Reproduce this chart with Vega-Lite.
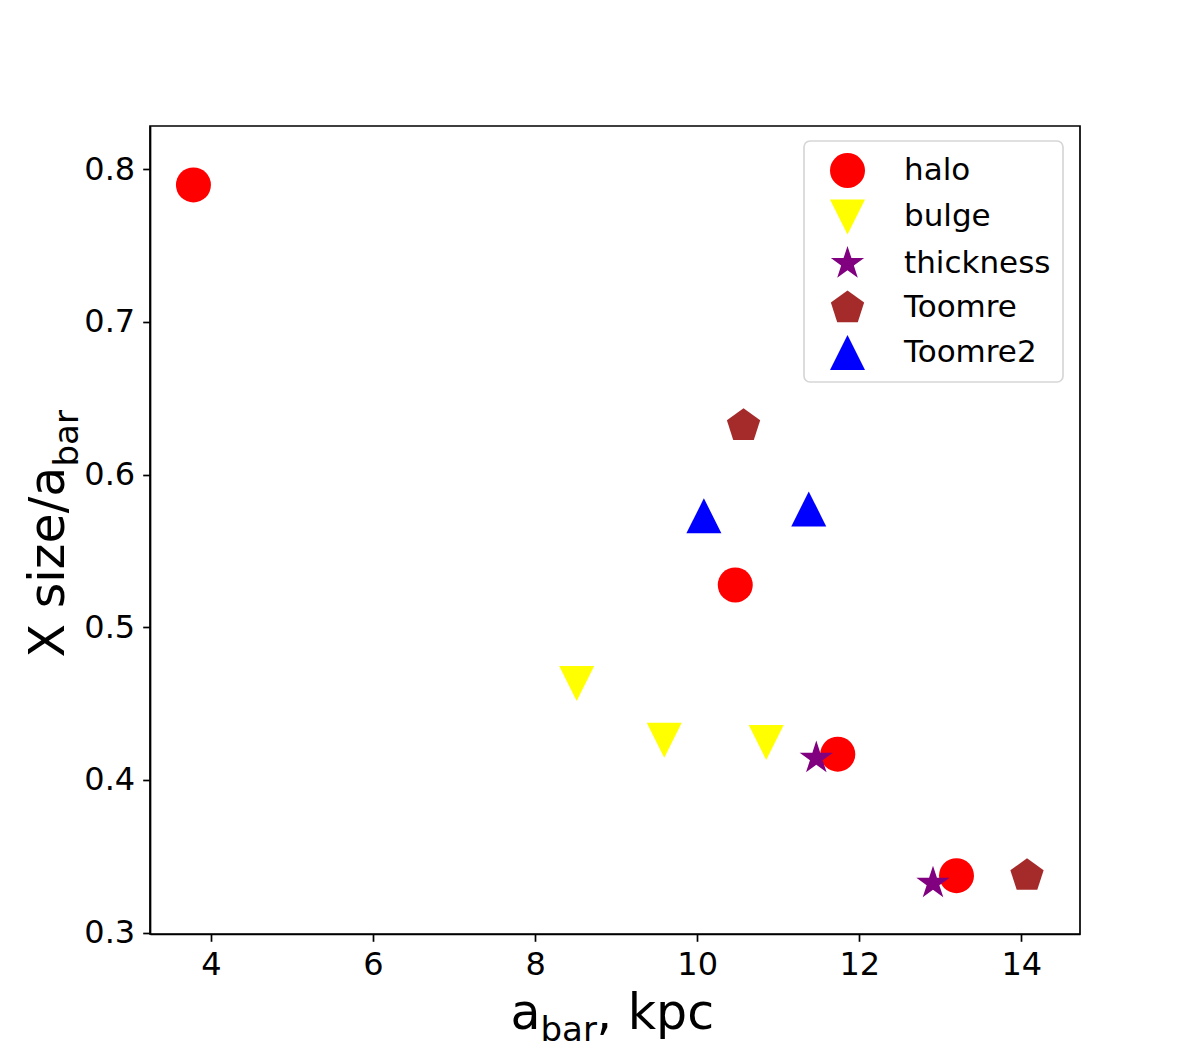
{
  "$schema": "https://vega.github.io/schema/vega-lite/v6.json",
  "width": 930,
  "height": 808,
  "autosize": {"type": "none"},
  "padding": {"left": 150, "top": 126, "right": 120, "bottom": 116},
  "background": "white",
  "data": {
    "values": [
      {"series": "halo", "abar": 3.784, "xsize": 0.7897},
      {"series": "halo", "abar": 10.47, "xsize": 0.5277},
      {"series": "halo", "abar": 11.735, "xsize": 0.4169},
      {"series": "halo", "abar": 13.2, "xsize": 0.3373},
      {"series": "bulge", "abar": 8.513, "xsize": 0.4631},
      {"series": "bulge", "abar": 9.594, "xsize": 0.426},
      {"series": "bulge", "abar": 10.852, "xsize": 0.4246},
      {"series": "thickness", "abar": 11.47, "xsize": 0.4143},
      {"series": "thickness", "abar": 12.91, "xsize": 0.3324},
      {"series": "Toomre", "abar": 10.572, "xsize": 0.632},
      {"series": "Toomre", "abar": 14.07, "xsize": 0.3373},
      {"series": "Toomre2", "abar": 10.083, "xsize": 0.573},
      {"series": "Toomre2", "abar": 11.377, "xsize": 0.5775}
    ]
  },
  "layer": [
    {
      "mark": {"type": "point", "filled": true, "opacity": 1, "size": 1225, "strokeWidth": 0},
      "encoding": {
        "x": {
          "field": "abar", "type": "quantitative",
          "scale": {"domain": [3.248, 14.724], "nice": false, "zero": false},
          "axis": {"orient": "bottom", "values": [4, 6, 8, 10, 12, 14], "format": "d", "title": null, "labelPadding": 8, "labelFlush": false, "labelOverlap": false}
        },
        "y": {
          "field": "xsize", "type": "quantitative",
          "scale": {"domain": [0.2991, 0.8283], "nice": false, "zero": false},
          "axis": {"orient": "left", "values": [0.3, 0.4, 0.5, 0.6, 0.7, 0.8], "format": ".1f", "title": null, "labelPadding": 8, "labelFlush": false, "labelOverlap": false}
        },
        "color": {
          "field": "series", "type": "nominal",
          "scale": {"domain": ["halo", "bulge", "thickness", "Toomre", "Toomre2"], "range": ["#ff0000", "#ffff00", "#800080", "#a52a2a", "#0000ff"]},
          "legend": {"title": null, "orient": "none", "legendX": 654, "legendY": 15}
        },
        "shape": {
          "field": "series", "type": "nominal",
          "scale": {"domain": ["halo", "bulge", "thickness", "Toomre", "Toomre2"], "range": ["circle", "M-1,-1L1,-1L0,1Z", "M0,-1L0.225,-0.309L0.951,-0.309L0.363,0.118L0.588,0.809L0,0.382L-0.588,0.809L-0.363,0.118L-0.951,-0.309L-0.225,-0.309Z", "M0,-1L0.951,-0.309L0.588,0.809L-0.588,0.809L-0.951,-0.309Z", "M0,-1L1,1L-1,1Z"]},
          "legend": {"title": null, "orient": "none", "legendX": 654, "legendY": 15}
        }
      }
    },
    {
      "mark": {"type": "point", "opacity": 0},
      "encoding": {
        "x": {
          "field": "abar", "type": "quantitative",
          "axis": {"orient": "bottom", "labels": false, "ticks": false, "domain": false, "title": "a", "titleFontSize": 49, "titleX": 360, "titleY": 94, "titleAlign": "left", "titleBaseline": "alphabetic", "titleAngle": 0}
        },
        "y": {
          "field": "xsize", "type": "quantitative",
          "axis": {"orient": "left", "labels": false, "ticks": false, "domain": false, "title": "X size/a", "titleFontSize": 49, "titleX": -87, "titleY": 531, "titleAlign": "left", "titleBaseline": "alphabetic", "titleAngle": 270}
        }
      }
    },
    {
      "mark": {"type": "point", "opacity": 0},
      "encoding": {
        "x": {
          "field": "abar", "type": "quantitative",
          "axis": {"orient": "bottom", "labels": false, "ticks": false, "domain": false, "title": "bar", "titleFontSize": 34, "titleX": 390, "titleY": 106, "titleAlign": "left", "titleBaseline": "alphabetic", "titleAngle": 0}
        },
        "y": {
          "field": "xsize", "type": "quantitative",
          "axis": {"orient": "left", "labels": false, "ticks": false, "domain": false, "title": "bar", "titleFontSize": 34, "titleX": -73, "titleY": 340, "titleAlign": "left", "titleBaseline": "alphabetic", "titleAngle": 270}
        }
      }
    },
    {
      "mark": {"type": "point", "opacity": 0},
      "encoding": {
        "x": {
          "field": "abar", "type": "quantitative",
          "axis": {"orient": "bottom", "labels": false, "ticks": false, "domain": false, "title": ", kpc", "titleFontSize": 49, "titleX": 446, "titleY": 94, "titleAlign": "left", "titleBaseline": "alphabetic", "titleAngle": 0}
        },
        "y": {"field": "xsize", "type": "quantitative", "axis": null}
      }
    }
  ],
  "resolve": {"axis": {"x": "independent", "y": "independent"}},
  "config": {
    "font": "DejaVu Sans",
    "view": {"stroke": "black", "strokeWidth": 1.7},
    "legend": {
      "padding": 12,
      "strokeColor": "#d6d6d6",
      "strokeWidth": 1.7,
      "cornerRadius": 6,
      "fillColor": "white",
      "labelFont": "DejaVu Sans",
      "labelFontSize": 31,
      "labelColor": "black",
      "symbolSize": 1225,
      "symbolStrokeWidth": 0,
      "symbolOpacity": 1,
      "rowPadding": 11.5,
      "labelOffset": 39,
      "symbolOffset": 14,
      "labelLimit": 400
    },
    "axis": {
      "grid": false,
      "domainColor": "black",
      "domainWidth": 1.7,
      "tickColor": "black",
      "tickWidth": 1.7,
      "tickSize": 7.3,
      "labelFont": "DejaVu Sans",
      "labelFontSize": 32,
      "labelColor": "black",
      "titleFont": "DejaVu Sans",
      "titleColor": "black",
      "titleFontWeight": "normal"
    }
  }
}
